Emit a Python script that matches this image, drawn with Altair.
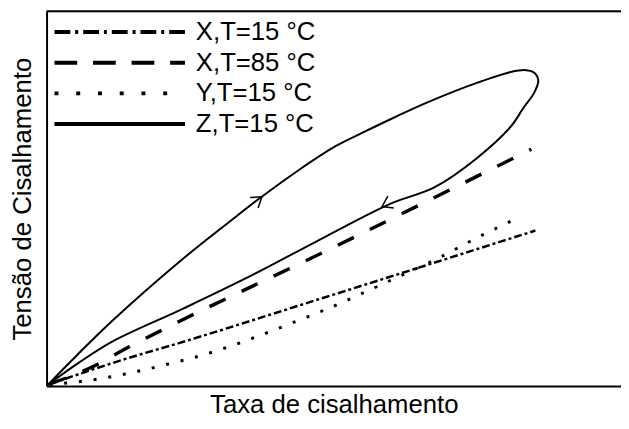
import altair as alt
import pandas as pd

series_names = ["X,T=15 °C", "X,T=85 °C", "Y,T=15 °C", "Z,T=15 °C"]

# X, T=15 °C (dash-dot)
x_dashdot = [0.5, 14.3, 22.9, 48.1, 85.1]
y_dashdot = [0.5, 7.5, 11.4, 23.5, 41.5]

# X, T=85 °C (dashed)
x_dashed = [0.5, 8.1, 14.3, 21.1, 48.6, 84.4]
y_dashed = [0.5, 5.2, 10.4, 15.7, 36.0, 63.2]

# Y, T=15 °C (dotted)
x_dotted = [0.5, 3.4, 6.4, 14.3, 22.3, 24.9, 45.5, 48.1, 55.5, 60.3, 67.9, 75.1, 82.5]
y_dotted = [0.3, 0.8, 1.3, 3.4, 6.3, 7.3, 18.5, 20.1, 25.1, 28.5, 33.9, 39.7, 45.2]

# Z, T=15 °C (solid hysteresis loop: up branch then down branch)
x_loop = [0.2, 5.2, 11.5, 23.7, 32.3, 37.1, 43.5, 50.3, 55.0, 60.7, 66.3, 74.9, 80.8, 83.5,
          84.9, 85.6, 84.9, 83.0, 80.8, 74.9, 67.5, 60.1, 48.6, 34.9, 23.7, 11.5, 5.7, 0.2]
y_loop = [0.3, 8.1, 17.5, 33.9, 44.4, 50.1, 57.2, 64.0, 67.6, 71.8, 75.7, 80.9, 83.8, 84.3,
          83.6, 81.5, 78.3, 74.2, 69.2, 60.8, 53.0, 48.8, 39.9, 28.9, 20.6, 11.9, 6.3, 0.3]

# direction arrows on the loop
arrow_x = [37.5, 58.4]
arrow_y = [50.5, 47.9]
arrow_angle = [323, 153]

frame_top = [100]

rows = []
for name, xs, ys in zip(series_names,
                        [x_dashdot, x_dashed, x_dotted, x_loop],
                        [y_dashdot, y_dashed, y_dotted, y_loop]):
    for i, (xv, yv) in enumerate(zip(xs, ys)):
        rows.append({"series": name, "x": xv, "y": yv, "ord": i})
df = pd.DataFrame(rows)
arrows = pd.DataFrame({"x": arrow_x, "y": arrow_y, "angle": arrow_angle})
top_df = pd.DataFrame({"y": frame_top})

FONT = "Liberation Sans"

x_enc = alt.X("x:Q", scale=alt.Scale(domain=[0, 100], nice=False, zero=False),
              axis=alt.Axis(title="Taxa de cisalhamento", labels=False, ticks=False, grid=False,
                            domainColor="black", domainWidth=2, titleFontSize=26,
                            titleFont=FONT, titleFontWeight="normal", titleColor="black",
                            titlePadding=6))
y_enc = alt.Y("y:Q", scale=alt.Scale(domain=[0, 100], nice=False, zero=False),
              axis=alt.Axis(title="Tensão de Cisalhamento", labels=False, ticks=False, grid=False,
                            domainColor="black", domainWidth=2, titleFontSize=26,
                            titleFont=FONT, titleFontWeight="normal", titleColor="black",
                            titlePadding=11))

base = alt.Chart(df)

def series_line(idx, **kw):
    return base.transform_filter(alt.datum.series == series_names[idx]).mark_line(
        color="black", **kw).encode(x=x_enc, y=y_enc, order="ord:Q")

dashdot = series_line(0, strokeWidth=2.5, strokeDash=[8, 3, 3, 3], interpolate="monotone")
dashed = series_line(1, strokeWidth=3.5, strokeDash=[18, 18], interpolate="monotone")
dotted = series_line(2, strokeWidth=3, strokeDash=[3, 12], interpolate="monotone")
loop = series_line(3, strokeWidth=2, interpolate="catmull-rom")

legend_layer = base.transform_filter("false").mark_line(color="black").encode(
    x=x_enc, y=y_enc,
    strokeDash=alt.StrokeDash(
        "series:N",
        scale=alt.Scale(domain=series_names,
                        range=[[16, 5, 3, 5], [23, 16], [4, 18], [1, 0]]),
        legend=alt.Legend(title=None, orient="none", legendX=61, legendY=8,
                          symbolType="M-6,0H6", symbolSize=484, symbolStrokeWidth=4,
                          symbolStrokeColor="black", labelFont=FONT, labelFontSize=26,
                          labelColor="black", rowPadding=5, labelOffset=64, padding=0,
                          labelLimit=300)))

arrow_layer = alt.Chart(arrows).mark_point(
    shape="M-1,-0.67L0,0L-1,0.67", filled=False, size=400, strokeWidth=1.5,
    color="black", opacity=1).encode(
    x=alt.X("x:Q"), y=alt.Y("y:Q"), angle=alt.Angle("angle:Q", scale=None))

top_rule = alt.Chart(top_df).mark_rule(color="black", strokeWidth=2).encode(y=alt.Y("y:Q"))

chart = alt.layer(dotted, dashdot, dashed, loop, arrow_layer, top_rule, legend_layer).properties(
    width=581, height=379,
    padding={"left": 39, "top": 1, "right": 0, "bottom": 32},
    autosize="none",
).configure_view(stroke=None).configure(background="white")

chart.save("out.html", embed_options={"renderer": "svg", "actions": False})
